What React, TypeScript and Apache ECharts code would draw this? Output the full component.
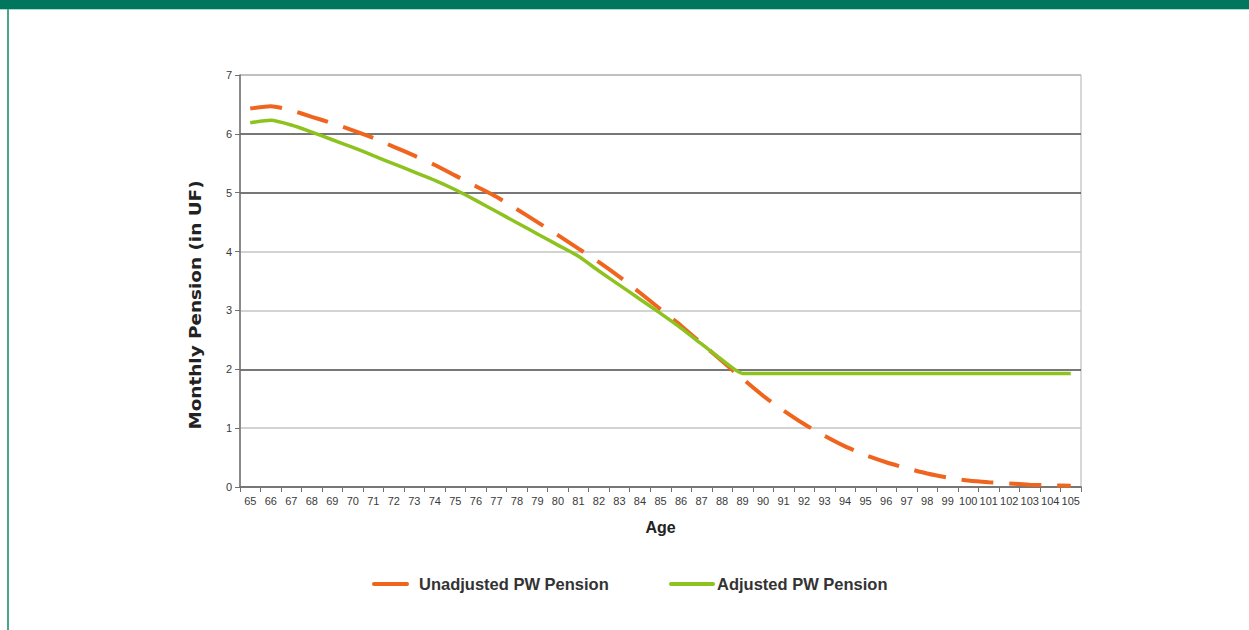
import React, { useEffect, useRef } from "react";
import * as echarts from "echarts";

const ages = Array.from({ length: 41 }, (_, i) => String(65 + i));
const unadjusted = [
  6.43, 6.47, 6.40, 6.29, 6.18, 6.06, 5.93, 5.78, 5.63, 5.47,
  5.29, 5.11, 4.93, 4.72, 4.50, 4.28, 4.05, 3.82, 3.57, 3.30,
  3.02, 2.74, 2.44, 2.14, 1.84, 1.55, 1.30, 1.07, 0.87, 0.69,
  0.54, 0.42, 0.32, 0.23, 0.16, 0.11, 0.08, 0.06, 0.04, 0.03, 0.02,
];
const adjusted = [
  6.19, 6.23, 6.15, 6.03, 5.90, 5.77, 5.63, 5.49, 5.35, 5.21,
  5.05, 4.87, 4.68, 4.49, 4.30, 4.11, 3.92, 3.67, 3.43, 3.19,
  2.95, 2.70, 2.43, 2.16, 1.93, 1.93, 1.93, 1.93, 1.93, 1.93,
  1.93, 1.93, 1.93, 1.93, 1.93, 1.93, 1.93, 1.93, 1.93, 1.93, 1.93,
];
const seriesNames = ["Unadjusted PW Pension", "Adjusted PW Pension"];
const seriesColors = ["#F0651E", "#8DC21F"];
const xTitle = "Age";
const yTitle = "Monthly Pension (in UF)";

const FONT = "'Liberation Sans', Arial, sans-serif";

export default function App() {
  const ref = useRef<HTMLDivElement>(null);
  useEffect(() => {
    if (!ref.current) return;
    const chart = echarts.init(ref.current, undefined, { renderer: "svg" });
    const legendText = {
      fontFamily: FONT,
      fontWeight: "bold",
      fontSize: 16.5,
      color: "#333333",
      padding: 0,
    };
    chart.setOption({
      animation: false,
      backgroundColor: "#ffffff",
      textStyle: { fontFamily: FONT },
      graphic: [
        { type: "rect", shape: { x: 0, y: 0, width: 1249, height: 9 }, style: { fill: "#00765E" }, silent: true },
        { type: "rect", shape: { x: 0, y: 9, width: 1249, height: 1 }, style: { fill: "#a8dccd" }, silent: true },
        { type: "rect", shape: { x: 7, y: 9, width: 2, height: 621 }, style: { fill: "#4aa58b" }, silent: true },
        { type: "rect", shape: { x: 372, y: 582, width: 37, height: 4, r: 2 }, style: { fill: seriesColors[0] }, silent: true },
        { type: "rect", shape: { x: 669, y: 582, width: 46, height: 4, r: 2 }, style: { fill: seriesColors[1] }, silent: true },
        {
          type: "text",
          x: 195,
          y: 305,
          rotation: Math.PI / 2,
          scaleX: 1.15,
          silent: true,
          style: {
            text: yTitle,
            fontFamily: "'DejaVu Sans', sans-serif",
            fontWeight: "bold",
            fontSize: 16,
            fill: "#222222",
            align: "center",
            verticalAlign: "middle",
          },
        },
      ],
      grid: {
        left: 240,
        right: 168,
        top: 75,
        bottom: 143,
        show: true,
        borderColor: "#b0b0b0",
        borderWidth: 1,
        outerBoundsMode: "none",
      },
      legend: [
        {
          data: [{ name: seriesNames[0], icon: "none" }],
          left: 414,
          top: 575,
          padding: 0,
          itemWidth: 0,
          itemHeight: 4,
          textStyle: legendText,
        },
        {
          data: [{ name: seriesNames[1], icon: "none" }],
          left: 712,
          top: 575,
          padding: 0,
          itemWidth: 0,
          itemHeight: 4,
          textStyle: legendText,
        },
      ],
      xAxis: {
        type: "category",
        data: ages,
        boundaryGap: true,
        name: xTitle,
        nameLocation: "middle",
        nameGap: 32,
        nameTextStyle: { fontFamily: FONT, fontWeight: "bold", fontSize: 16, color: "#222222" },
        axisLine: { lineStyle: { color: "#707070", width: 1.5 } },
        axisTick: { show: true, length: 5, interval: 0, lineStyle: { color: "#707070" } },
        axisLabel: { interval: 0, fontSize: 11, color: "#3a3a3a", margin: 8, fontFamily: FONT },
        splitLine: { show: false },
      },
      yAxis: {
        type: "value",
        min: 0,
        max: 7,
        interval: 1,
        axisLine: { show: true, lineStyle: { color: "#707070", width: 1.5 } },
        axisTick: { show: true, length: 5, lineStyle: { color: "#707070" } },
        axisLabel: { fontSize: 11, color: "#3a3a3a", margin: 8, fontFamily: FONT },
        splitLine: {
          show: true,
          lineStyle: {
            color: ["#707070", "#c4c4c4", "#4a4a4a", "#c4c4c4", "#c4c4c4", "#4a4a4a", "#4a4a4a", "#b8b8b8"],
            width: 1.5,
          },
        },
      },
      series: [
        {
          name: seriesNames[0],
          type: "line",
          data: unadjusted,
          showSymbol: false,
          symbol: "none",
          smooth: 0.2,
          color: seriesColors[0],
          lineStyle: { color: seriesColors[0], width: 4, type: [32, 16] },
          z: 2,
        },
        {
          name: seriesNames[1],
          type: "line",
          data: adjusted,
          showSymbol: false,
          symbol: "none",
          smooth: 0.2,
          color: seriesColors[1],
          lineStyle: { color: seriesColors[1], width: 3.5 },
          z: 3,
        },
      ],
    });
    return () => chart.dispose();
  }, []);
  return (
    <div
      ref={ref}
      style={{ position: "absolute", left: 0, top: 0, width: 1249, height: 630 }}
    />
  );
}
